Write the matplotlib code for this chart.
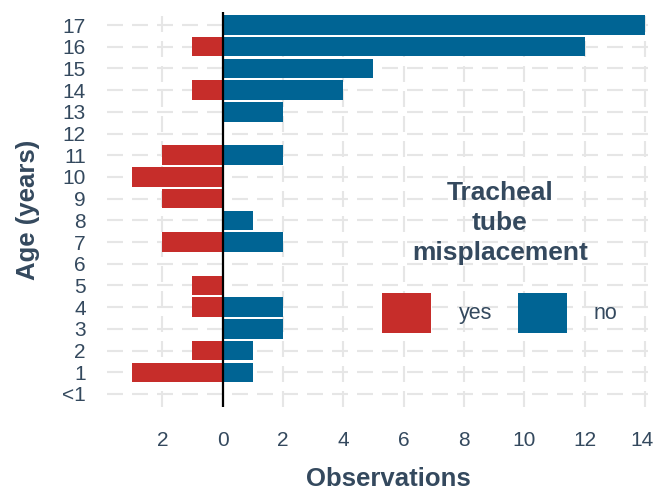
import matplotlib
matplotlib.use("Agg")
import matplotlib.pyplot as plt
import matplotlib.transforms as mtransforms
from matplotlib.ticker import FuncFormatter
import numpy as np

# data
ages = ["<1", "1", "2", "3", "4", "5", "6", "7", "8", "9",
        "10", "11", "12", "13", "14", "15", "16", "17"]
yes_counts = [0, 3, 1, 0, 1, 1, 0, 2, 0, 2, 3, 2, 0, 0, 1, 0, 1, 0]
no_counts = [0, 1, 1, 2, 2, 0, 0, 2, 1, 0, 0, 2, 0, 2, 4, 5, 12, 14]
x_ticks = [-2, 0, 2, 4, 6, 8, 10, 12, 14]

RED = "#c62d2a"
BLUE = "#006494"
TXT = "#34495e"
GRID = "#e6e6e6"

plt.rcParams["font.family"] = ["Liberation Sans", "DejaVu Sans"]
plt.rcParams["lines.scale_dashes"] = False

W, H = 654, 491
fig = plt.figure(figsize=(W / 100, H / 100), dpi=100)
ax = fig.add_axes([106.5 / W, (H - 407) / H, 1 - 106.5 / W, (407 - 12) / H])

y = np.arange(len(ages))
# yes on the left (negative), no on the right
ax.barh(y, -np.array(yes_counts), height=0.9, color=RED, label="yes", zorder=2)
ax.barh(y, no_counts, height=0.9, color=BLUE, label="no", zorder=2)
ax.axvline(0, color="black", lw=1.6, zorder=3)

ax.set_xlim(-3.85, 14.3)
ax.set_ylim(-0.6, 17.6)
ax.set_yticks(y)
ax.set_yticklabels(ages)
ax.set_xticks(x_ticks)
ax.xaxis.set_major_formatter(FuncFormatter(lambda v, p: f"{abs(int(v))}"))

ax.grid(True, color=GRID, lw=1.5, linestyle=(0, (11.5, 6.5)), zorder=0)
ax.set_axisbelow(True)
for s in ax.spines.values():
    s.set_visible(False)
ax.tick_params(axis="both", length=0, labelsize=15, labelcolor=TXT)
ax.tick_params(axis="y", pad=15)
ax.tick_params(axis="x", pad=17.5)

# last tick label sits at the figure edge, nudge it in a little
last = ax.get_xticklabels()[-1]
last.set_transform(last.get_transform() +
                   mtransforms.ScaledTranslation(-3 / 100, 0, fig.dpi_scale_trans))

fig.text(388.5 / W, (H - 479) / H, "Observations", ha="center", va="center",
         fontsize=18.5, fontweight="bold", color=TXT)
fig.text(27.5 / W, (H - 210) / H, "Age (years)", ha="center", va="center",
         rotation=90, fontsize=18.5, fontweight="bold", color=TXT)

leg = ax.legend(title="Tracheal\ntube\nmisplacement", ncol=2, frameon=False,
                loc="center", bbox_to_anchor=(500 / W, (H - 257) / H),
                bbox_transform=fig.transFigure, fontsize=15.5,
                handlelength=2.28, handleheight=2.485, handletextpad=1.26,
                columnspacing=1.21, labelspacing=1.3, labelcolor=TXT,
                title_fontproperties={"weight": "bold", "size": 19})
leg.get_title().set_color(TXT)
leg.get_title().set_multialignment("center")
leg.get_title().set_linespacing(1.3)

fig.savefig("out.png", dpi=100)
